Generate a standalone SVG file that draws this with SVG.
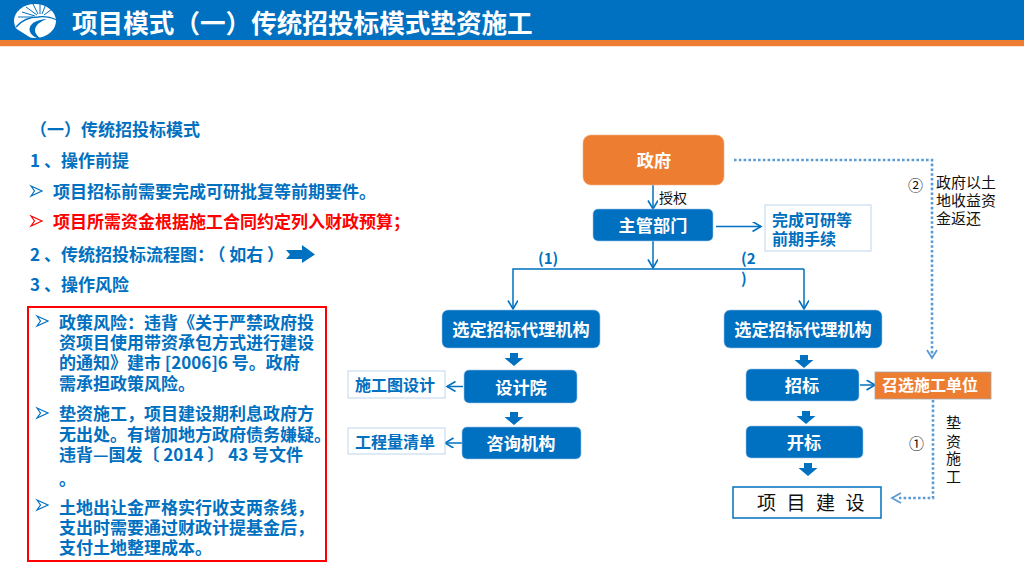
<svg xmlns="http://www.w3.org/2000/svg" width="1024" height="576" viewBox="0 0 1024 576">
<style>
text{font-family:"Noto Sans CJK SC","Liberation Sans",sans-serif}
.h{font-size:17px;font-weight:700;fill:#0070C0}
.r{font-size:17px;font-weight:700;fill:#FF0000}
.b{font-size:17px;font-weight:700;fill:#0070C0}
.n{fill:#0070C0;stroke:#9DC3E6;stroke-width:.6}
.nt{font-size:17.2px;font-weight:700;fill:#fff;text-anchor:middle}
.k{font-size:15px;fill:#111}
.side{fill:#fff;stroke:#BDD7EE;stroke-width:1}
.st{font-size:16px;font-weight:700;fill:#0070C0;text-anchor:middle}
.ln{fill:none;stroke:#0070C0;stroke-width:1.5}
.dot{fill:none;stroke:#5B9BD5;stroke-width:2.6;stroke-dasharray:2.6 2.2}
.da{fill:none;stroke:#5B9BD5;stroke-width:1.8}
.blk{fill:#0070C0}
</style>
<defs>
<marker id="a" markerWidth="12" markerHeight="12" refX="9.5" refY="5" orient="auto" markerUnits="userSpaceOnUse"><path d="M1 0L9.500 5L1 10" fill="none" stroke="#0070C0" stroke-width="1.600"/></marker>
<path id="bul" d="M0 0L11 5L0 10L3.500 5Z" fill="#fff" stroke="#0070C0" stroke-width="1.200"/>
<path id="bulr" d="M0 0L11 5L0 10L3.500 5Z" fill="#fff" stroke="#FF0000" stroke-width="1.200"/>
<path id="dn" d="M-4 0H4V5H9.500L0 13L-9.500 5H-4Z" fill="#0070C0"/>
</defs>

<g id="header">
<rect x="0" y="0" width="1024" height="40" fill="#0070C0"/>
<rect x="0" y="40" width="1024" height="6" fill="#ED7D31"/>
<rect x="0" y="46" width="1024" height="1" fill="#FBE5D6"/>
<ellipse cx="35" cy="21" rx="21" ry="17" fill="#fff"/>
<path d="M12 26L31 38H12Z" fill="#0070C0"/>
<path d="M16 27C22 20 30 17 38 17C44 16 50 17 57 20" fill="none" stroke="#0070C0" stroke-width="1.300"/>
<path d="M37 15L26 7M38 14L33 4M40 14L40 3M42 14L46 4M44 15L52 9M35 16L22 12M33 17L18 17" stroke="#0070C0" stroke-width="1"/>
<path d="M37 38C25 33 27 20 47 19C35 23 31 31 40 38Z" fill="#0070C0"/>
<text x="72" y="33" font-size="25.600" font-weight="700" fill="#fff">项目模式（一）传统招投标模式垫资施工</text>
</g>

<g id="left-text">
<text class="h" x="30" y="136">（一）传统招投标模式</text>
<text class="h" x="30" y="167">1 、操作前提</text>
<use href="#bul" x="31" y="186"/>
<text class="h" x="53" y="198">项目招标前需要完成可研批复等前期要件。</text>
<use href="#bulr" x="31" y="216"/>
<text class="r" x="53" y="228">项目所需资金根据施工合同约定列入财政预算；</text>
<text class="h" x="30" y="261">2 、传统招投标流程图：<tspan dx="3">（ 如右 ）</tspan></text>
<path d="M286 250H302V245L315 254.500L302 263V259H286L290 254.500Z" class="blk"/>
<text class="h" x="30" y="291">3 、操作风险</text>
</g>

<g id="risk-box">
<rect x="28" y="307" width="298" height="254" fill="#fff" stroke="#FF0000" stroke-width="2"/>
<use href="#bul" x="37" y="316"/>
<text class="b" x="59" y="329">政策风险：违背《关于严禁政府投</text>
<text class="b" x="59" y="349">资项目使用带资承包方式进行建设</text>
<text class="b" x="59" y="369">的通知》建市 [2006]6 号。政府</text>
<text class="b" x="59" y="390">需承担政策风险。</text>
<use href="#bul" x="37" y="408"/>
<text class="b" x="59" y="420">垫资施工，项目建设期利息政府方</text>
<text class="b" x="59" y="441">无出处。有增加地方政府债务嫌疑。</text>
<text class="b" x="59" y="461">违背—国发〔 2014 〕 43 号文件</text>
<text class="b" x="59" y="485">。</text>
<use href="#bul" x="37" y="500"/>
<text class="b" x="59" y="514">土地出让金严格实行收支两条线，</text>
<text class="b" x="59" y="534">支出时需要通过财政计提基金后，</text>
<text class="b" x="59" y="554">支付土地整理成本。</text>
</g>

<g id="connectors">
<path class="ln" d="M653 185V209" marker-end="url(#a)"/>
<path class="ln" d="M653 241V268" marker-end="url(#a)"/>
<path class="ln" d="M716 226.500H761" marker-end="url(#a)"/>
<path class="ln" d="M804 269H513V309" marker-end="url(#a)"/>
<path class="ln" d="M804 269V309" marker-end="url(#a)"/>
<path class="ln" d="M463 386.500H447" marker-end="url(#a)"/>
<path class="ln" d="M462 443H445" marker-end="url(#a)"/>
<path class="ln" d="M860 385H875" marker-end="url(#a)"/>
<use href="#dn" x="514" y="353"/>
<use href="#dn" x="514" y="412"/>
<use href="#dn" x="804" y="355"/>
<use href="#dn" x="806" y="411"/>
<use href="#dn" x="808" y="463"/>
<path class="dot" d="M734 160H932V357"/>
<path class="da" d="M927 350L932 358L937 350"/>
<path class="dot" d="M933 400V498H899"/>
<path class="da" d="M901 493L892 498L901 503"/>
</g>

<g id="gov"><rect x="583" y="135" width="141" height="50" rx="8" fill="#ED7D31" stroke="#F4B183" stroke-width=".6"/><text class="nt" x="654" y="167">政府</text></g>
<g id="dept"><rect class="n" x="593" y="209" width="120" height="32" rx="5"/><text class="nt" x="653" y="232">主管部门</text></g>
<g id="prework"><rect class="side" x="765" y="205" width="106" height="46"/><text class="st" x="772" y="226" style="text-anchor:start">完成可研等</text><text class="st" x="772" y="245" style="text-anchor:start">前期手续</text></g>
<g id="agent-left"><rect class="n" x="442" y="310" width="158" height="38" rx="6"/><text class="nt" x="521" y="336">选定招标代理机构</text></g>
<g id="agent-right"><rect class="n" x="724" y="310" width="158" height="38" rx="6"/><text class="nt" x="803" y="336">选定招标代理机构</text></g>
<g id="design"><rect class="n" x="464" y="370" width="113" height="33" rx="5"/><text class="nt" x="521" y="394">设计院</text></g>
<g id="consult"><rect class="n" x="462" y="427" width="119" height="32" rx="5"/><text class="nt" x="521" y="450">咨询机构</text></g>
<g id="drawing"><rect class="side" x="348" y="371" width="97" height="27"/><text class="st" x="395" y="391">施工图设计</text></g>
<g id="quantity"><rect class="side" x="348" y="428" width="97" height="26"/><text class="st" x="395" y="448">工程量清单</text></g>
<g id="tender"><rect class="n" x="746" y="369" width="113" height="32" rx="5"/><text class="nt" x="802" y="392">招标</text></g>
<g id="open"><rect class="n" x="746" y="426" width="117" height="32" rx="5"/><text class="nt" x="804" y="449">开标</text></g>
<g id="select"><rect x="875" y="372" width="116" height="27" fill="#ED7D31" stroke="#A5A5A5" stroke-width=".8"/><text class="nt" x="930" y="391" style="font-size:16px">召选施工单位</text></g>
<g id="project"><rect x="733" y="487" width="148" height="31" fill="#fff" stroke="#0070C0" stroke-width="1.500"/><text x="757" y="510" font-size="19" letter-spacing="10.500" fill="#111">项目建设</text></g>

<g id="labels">
<text class="k" x="659" y="203" style="font-size:14px">授权</text>
<text x="538" y="264" font-size="15" font-weight="700" fill="#0070C0">(1)</text>
<text x="741" y="264" font-size="15" font-weight="700" fill="#0070C0">(2</text>
<text x="741" y="284" font-size="15" font-weight="700" fill="#0070C0">)</text>
<text class="k" x="908" y="191">②</text>
<text class="k" x="936" y="188">政府以土</text>
<text class="k" x="936" y="206">地收益资</text>
<text class="k" x="936" y="224">金返还</text>
<text class="k" x="909" y="449">①</text>
<text class="k" x="946" y="428">垫</text>
<text class="k" x="946" y="447">资</text>
<text class="k" x="946" y="464">施</text>
<text class="k" x="946" y="482">工</text>
</g>
</svg>
